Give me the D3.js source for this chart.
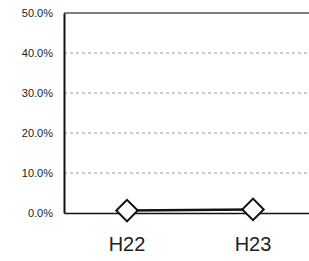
<!DOCTYPE html>
<html>
<head>
<meta charset="utf-8">
<script src="https://cdn.jsdelivr.net/npm/d3@7"></script>
<style>
  body { margin: 0; background: #fff; }
  svg { display: block; }
  .tick text { font-family: "Liberation Sans", Arial, sans-serif; fill: #222; }
</style>
</head>
<body>
<div id="chart"></div>
<script>
'use strict';

// data
const categories = ['H22', 'H23'];
const values     = [0.6, 0.9];        // percent
const yTicks     = [0, 10, 20, 30, 40, 50];

const W = 309, H = 261;
const margin = {top: 13, left: 64, bottom: 48};
const plotRight = 316;   // plot runs past the window edge

const svg = d3.select('#chart').append('svg').attr('width', W).attr('height', H);

const x = d3.scaleBand().domain(categories).range([margin.left, plotRight]);
const y = d3.scaleLinear().domain([0, 50]).range([H - margin.bottom, margin.top]);

//gridlines
svg.append('g').selectAll('line')
  .data(yTicks.filter(d => d > 0 && d < 50))
  .join('line')
  .attr('x1', margin.left).attr('x2', plotRight)
  .attr('y1', d => y(d)).attr('y2', d => y(d))
  .attr('stroke', '#999').attr('stroke-width', 1).attr('stroke-dasharray', '3,3');

//top border
svg.append('line')
  .attr('x1', margin.left).attr('x2', plotRight)
  .attr('y1', y(50)).attr('y2', y(50))
  .attr('stroke', '#555').attr('stroke-width', 1.5);

//y axis
const yAxis = d3.axisLeft(y).tickValues(yTicks).tickSize(0).tickPadding(11)
  .tickFormat(d => d.toFixed(1) + '%');
const gy = svg.append('g').attr('transform', `translate(${margin.left},0)`).call(yAxis);
gy.select('.domain').attr('stroke', '#111').attr('stroke-width', 2);
gy.selectAll('text').attr('font-size', 11);

//x axis
const xAxis = d3.axisBottom(x).tickSize(0).tickPadding(24);
const gx = svg.append('g').attr('transform', `translate(0,${y(0)})`).call(xAxis);
gx.select('.domain').attr('stroke', '#111').attr('stroke-width', 1.5);
gx.selectAll('text').attr('font-size', 20).attr('fill', '#111');

//series line
const line = d3.line()
  .x((d, i) => x(categories[i]) + x.bandwidth() / 2)
  .y(d => y(d));
svg.append('path').attr('d', line(values))
  .attr('fill', 'none').attr('stroke', '#111').attr('stroke-width', 2.5);

//diamond markers
const diamond = d3.symbol().type(d3.symbolSquare).size(230);
svg.append('g').selectAll('path')
  .data(values)
  .join('path')
  .attr('d', diamond)
  .attr('transform', (d, i) => `translate(${x(categories[i]) + x.bandwidth() / 2},${y(d)}) rotate(45)`)
  .attr('fill', '#fff').attr('stroke', '#111').attr('stroke-width', 2);
</script>
</body>
</html>
